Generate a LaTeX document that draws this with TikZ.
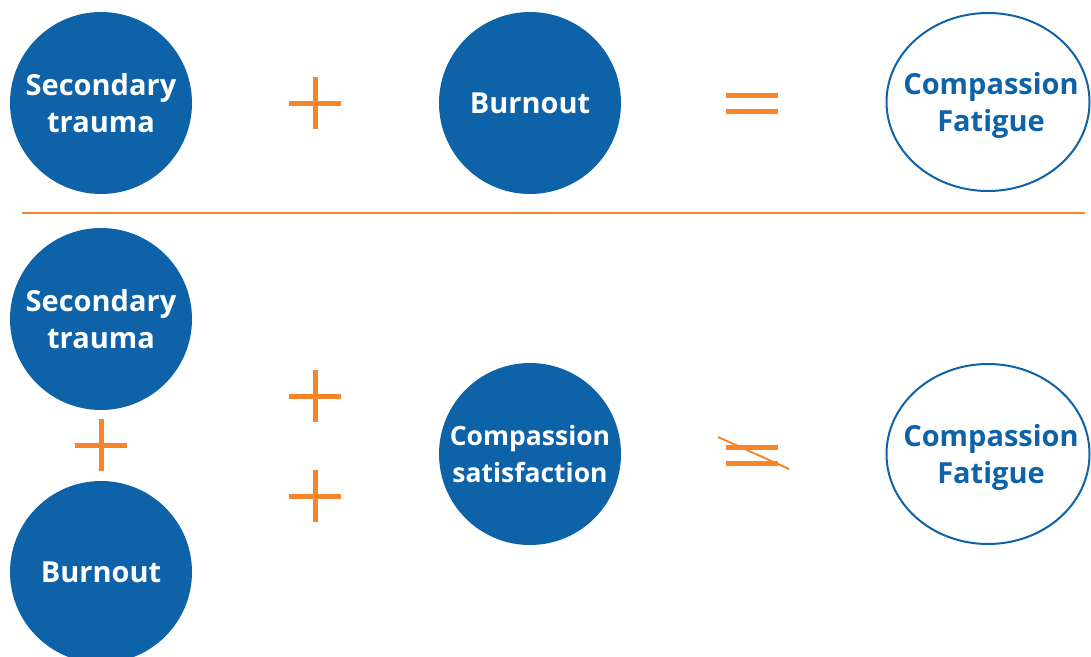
\documentclass[tikz,border=0pt]{standalone}
\usepackage{fontspec}
\setmainfont{Open Sans}
\usetikzlibrary{shapes.geometric}
\definecolor{cfblue}{HTML}{0E62A8}
\definecolor{cforange}{HTML}{F7862B}
\tikzset{
  bubble/.style={circle,fill=cfblue,minimum size=182pt,inner sep=0pt,
    text=white,align=center,font=\fontsize{29}{37}\selectfont\bfseries},
  outcome/.style={inner sep=0pt,text=cfblue,align=center,
    font=\fontsize{29}{37}\selectfont\bfseries},
  rim/.style={draw=cfblue,line width=2pt},
  sign/.style={draw=cforange,line width=5pt},
}
\begin{document}
\begin{tikzpicture}[x=1pt,y=-1pt]
\useasboundingbox (0,0) rectangle (1091,656);
% top row
\node[bubble] (st1) at (101,103) {Secondary\\trauma};
\node[bubble] (bo1) at (530,103) {Burnout};
\draw[rim] (988,102) ellipse [x radius=101.5,y radius=89];
\node[outcome] (cf1) at (991,105) {Compassion\\Fatigue};
\coordinate (p1) at (315,103);
\draw[sign] ([xshift=-26pt]p1)--([xshift=26pt]p1) ([yshift=-26pt]p1)--([yshift=26pt]p1);
\coordinate (e1) at (752,103);
\draw[sign] ([xshift=-26pt,yshift=-8pt]e1)--([xshift=26pt,yshift=-8pt]e1)
  ([xshift=-26pt,yshift=8pt]e1)--([xshift=26pt,yshift=8pt]e1);
% separator
\draw[cforange,line width=1.2pt](22,213)--(1085,213);
% bottom row
\node[bubble] (st2) at (101,319) {Secondary\\trauma};
\node[bubble] (bo2) at (101,572) {Burnout};
\node[bubble,font=\fontsize{26.5}{37}\selectfont\bfseries] (cs2) at (530,454) {Compassion\\satisfaction};
\draw[rim] (988,454) ellipse [x radius=101.5,y radius=90];
\node[outcome] (cf2) at (991,457) {Compassion\\Fatigue};
\foreach \px/\py [count=\i] in {101/445,315/396,315/496}{
  \coordinate (plus\i) at (\px,\py);
  \draw[sign] ([xshift=-26pt]plus\i)--([xshift=26pt]plus\i)
    ([yshift=-26pt]plus\i)--([yshift=26pt]plus\i);
}
\coordinate (e2) at (752,455);
\draw[sign] ([xshift=-26pt,yshift=-8pt]e2)--([xshift=26pt,yshift=-8pt]e2)
  ([xshift=-26pt,yshift=8pt]e2)--([xshift=26pt,yshift=8pt]e2);
\draw[cforange,line width=2pt] ([xshift=-34pt,yshift=18pt]e2)--([xshift=37pt,yshift=-14pt]e2);
\end{tikzpicture}
\end{document}
